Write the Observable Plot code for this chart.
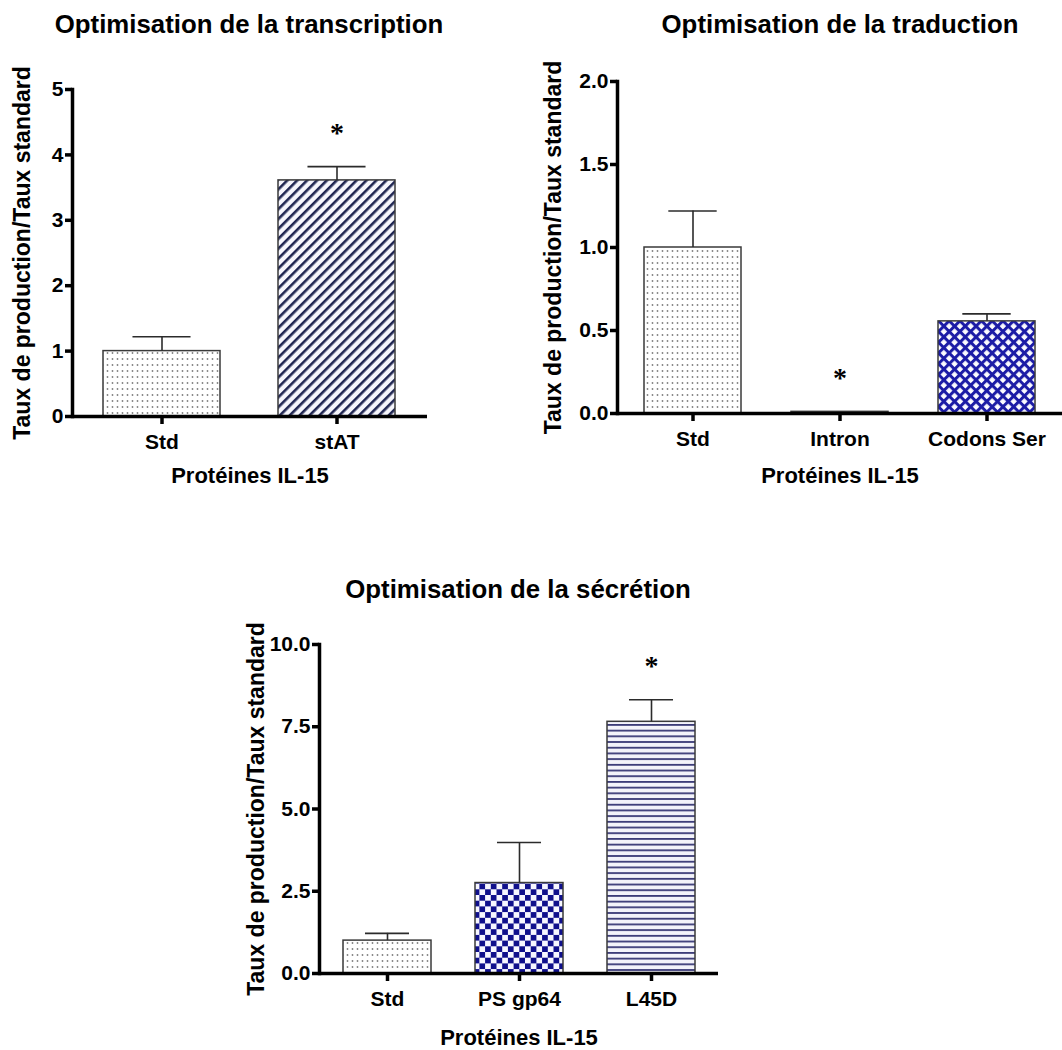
<!DOCTYPE html>
<html><head><meta charset="utf-8">
<script src="https://cdn.jsdelivr.net/npm/d3@7"></script>
<script src="https://cdn.jsdelivr.net/npm/@observablehq/plot@0.6"></script>
<style>
body{margin:0;background:#fff;font-family:"Liberation Sans",Arial,sans-serif;}
#root{position:relative;width:1062px;height:1050px;overflow:hidden;background:#fff;}
.panel{position:absolute;}
.title{position:absolute;font-weight:bold;font-size:25.8px;line-height:25.8px;white-space:nowrap;transform:translateX(-50%);color:#000;}
</style></head><body><div id="root"></div>
<script>
// ---- Data ----
const yLabel = "Taux de production/Taux standard";
const xLabel = "Protéines IL-15";

const transTitle = "Optimisation de la transcription";
const transCats = ["Std", "stAT"];
const transVals = [1.0, 3.61];
const transErrs = [0.22, 0.21];
const transStars = ["stAT"];
const transTicks = [0, 1, 2, 3, 4, 5];

const tradTitle = "Optimisation de la traduction";
const tradCats = ["Std", "Intron", "Codons Ser"];
const tradVals = [1.0, 0.01, 0.555];
const tradErrs = [0.22, 0.0, 0.045];
const tradStars = ["Intron"];
const tradTicks = [0, 0.5, 1.0, 1.5, 2.0];

const secTitle = "Optimisation de la sécrétion";
const secCats = ["Std", "PS gp64", "L45D"];
const secVals = [1.0, 2.75, 7.65];
const secErrs = [0.22, 1.23, 0.67];
const secStars = ["L45D"];
const secTicks = [0, 2.5, 5.0, 7.5, 10.0];

// ---- Styles ----
const patternOf = {"Std": "dots", "stAT": "diag", "Intron": "dots", "Codons Ser": "cross", "PS gp64": "checker", "L45D": "hlines"};

function addPatterns(svgEl, id) {
  const svg = d3.select(svgEl);
  const defs = svg.insert("defs", ":first-child");
  // dots
  let p = defs.append("pattern").attr("id", id + "-dots").attr("patternUnits", "userSpaceOnUse").attr("width", 5).attr("height", 6);
  p.append("rect").attr("width", 5).attr("height", 6).attr("fill", "#fff");
  p.append("circle").attr("cx", 2.5).attr("cy", 3).attr("r", 0.9).attr("fill", "#808080");
  // diagonal
  p = defs.append("pattern").attr("id", id + "-diag").attr("patternUnits", "userSpaceOnUse").attr("width", 7).attr("height", 7).attr("patternTransform", "rotate(-45)");
  p.append("rect").attr("width", 7).attr("height", 7).attr("fill", "#f6f6fc");
  p.append("rect").attr("width", 7).attr("height", 2.6).attr("fill", "#1f2551");
  // crosshatch
  p = defs.append("pattern").attr("id", id + "-cross").attr("patternUnits", "userSpaceOnUse").attr("width", 7.6).attr("height", 7.6).attr("patternTransform", "rotate(45)");
  p.append("rect").attr("width", 7.6).attr("height", 7.6).attr("fill", "#fbfbff");
  p.append("rect").attr("width", 7.6).attr("height", 3.0).attr("fill", "#1c1ca6");
  p.append("rect").attr("width", 3.0).attr("height", 7.6).attr("fill", "#1c1ca6");
  // checker
  p = defs.append("pattern").attr("id", id + "-checker").attr("patternUnits", "userSpaceOnUse").attr("width", 11.4).attr("height", 11.4);
  p.append("rect").attr("width", 11.4).attr("height", 11.4).attr("fill", "#f7f7ff");
  p.append("rect").attr("width", 5.7).attr("height", 5.7).attr("fill", "#10108c");
  p.append("rect").attr("x", 5.7).attr("y", 5.7).attr("width", 5.7).attr("height", 5.7).attr("fill", "#10108c");
  // horizontal lines
  p = defs.append("pattern").attr("id", id + "-hlines").attr("patternUnits", "userSpaceOnUse").attr("width", 10).attr("height", 5.7);
  p.append("rect").attr("width", 10).attr("height", 5.7).attr("fill", "#f3f3fa");
  p.append("rect").attr("width", 10).attr("height", 1.8).attr("fill", "#3b3b78");
}

function panel(cfg) {
  const data = cfg.cats.map((c, i) => ({cat: c, value: cfg.vals[i], err: cfg.errs[i], top: cfg.vals[i] + cfg.errs[i], star: cfg.stars.includes(c)}));
  const withErr = data.filter(d => d.err > 0);
  const L = cfg.width - cfg.ml - cfg.mr;
  const n = cfg.cats.length;
  const step = L / (n - cfg.pi + 2 * cfg.po);
  const bw = step * (1 - cfg.pi);
  const chart = Plot.plot({
    width: cfg.width, height: cfg.height,
    marginLeft: cfg.ml, marginRight: cfg.mr, marginTop: cfg.mt, marginBottom: cfg.mb,
    style: {fontFamily: '"Liberation Sans", Arial, sans-serif', fontWeight: "bold", color: "#000", background: "transparent", overflow: "visible"},
    x: {domain: cfg.cats, paddingInner: cfg.pi, paddingOuter: cfg.po},
    y: {domain: cfg.yDomain},
    color: {type: "identity"},
    marks: [
      Plot.barY(data, {x: "cat", y: "value", fill: d => `url(#${cfg.id}-${patternOf[d.cat]})`, stroke: "#3a3a3a", strokeWidth: 1.5}),
      Plot.ruleX(withErr, {x: "cat", y1: "value", y2: "top", stroke: "#2b2b2b", strokeWidth: 1.6}),
      Plot.tickY(withErr, {x: "cat", y: "top", insetLeft: bw / 4, insetRight: bw / 4, stroke: "#2b2b2b", strokeWidth: 1.6}),
      Plot.text(data.filter(d => d.star), {x: "cat", y: "top", text: () => "*", dy: -34, fontSize: 28, fontFamily: '"Liberation Serif", serif', fontWeight: "bold"}),
      Plot.ruleY([0], {stroke: "#000", strokeWidth: 3.5}),
      Plot.frame({anchor: "left", stroke: "#000", strokeWidth: 3.5}),
      Plot.axisY({ticks: cfg.yTicks, tickFormat: cfg.fmt, tickSize: 7, tickPadding: 2, strokeWidth: 3.5, fontSize: 21, fontWeight: "bold", label: null}),
      Plot.axisX({tickSize: 8, tickPadding: 10, strokeWidth: 3.5, fontSize: 21, fontWeight: "bold", label: null}),
      Plot.text([yLabel], {frameAnchor: "left", rotate: -90, textAnchor: "middle", lineAnchor: "middle", dx: cfg.ylDx, fontSize: 23, fontWeight: "bold", text: d => d}),
      Plot.text([xLabel], {frameAnchor: "bottom", textAnchor: "middle", lineAnchor: "middle", dy: cfg.xlDy, fontSize: 22, fontWeight: "bold", text: d => d})
    ]
  });
  addPatterns(chart, cfg.id);
  const root = document.getElementById("root");
  const wrap = document.createElement("div");
  wrap.className = "panel";
  wrap.style.left = cfg.left + "px";
  wrap.style.top = cfg.top + "px";
  wrap.appendChild(chart);
  root.appendChild(wrap);
  const t = document.createElement("div");
  t.className = "title";
  t.textContent = cfg.title;
  t.style.left = cfg.titleX + "px";
  t.style.top = cfg.titleY + "px";
  root.appendChild(t);
}

panel({id: "p1", title: transTitle, titleX: 249, titleY: 12, left: 0, top: 50, width: 437, height: 446, ml: 72, mr: 10, mt: 39, mb: 80,
  cats: transCats, vals: transVals, errs: transErrs, stars: transStars, yDomain: [0, 5], yTicks: transTicks, fmt: d3.format("d"),
  pi: 0.33, po: 0.174, ylDx: -50, xlDy: 59});

panel({id: "p2", title: tradTitle, titleX: 840, titleY: 12, left: 530, top: 50, width: 532, height: 443, ml: 87, mr: 0, mt: 31, mb: 80,
  cats: tradCats, vals: tradVals, errs: tradErrs, stars: tradStars, yDomain: [0, 2], yTicks: tradTicks, fmt: d3.format(".1f"),
  pi: 0.34, po: 0.18, ylDx: -64, xlDy: 62});

panel({id: "p3", title: secTitle, titleX: 518, titleY: 577, left: 240, top: 610, width: 488, height: 440, ml: 79, mr: 10, mt: 34, mb: 77,
  cats: secCats, vals: secVals, errs: secErrs, stars: secStars, yDomain: [0, 10], yTicks: secTicks, fmt: d3.format(".1f"),
  pi: 0.336, po: 0.174, ylDx: -63, xlDy: 64});
</script>
</body></html>
